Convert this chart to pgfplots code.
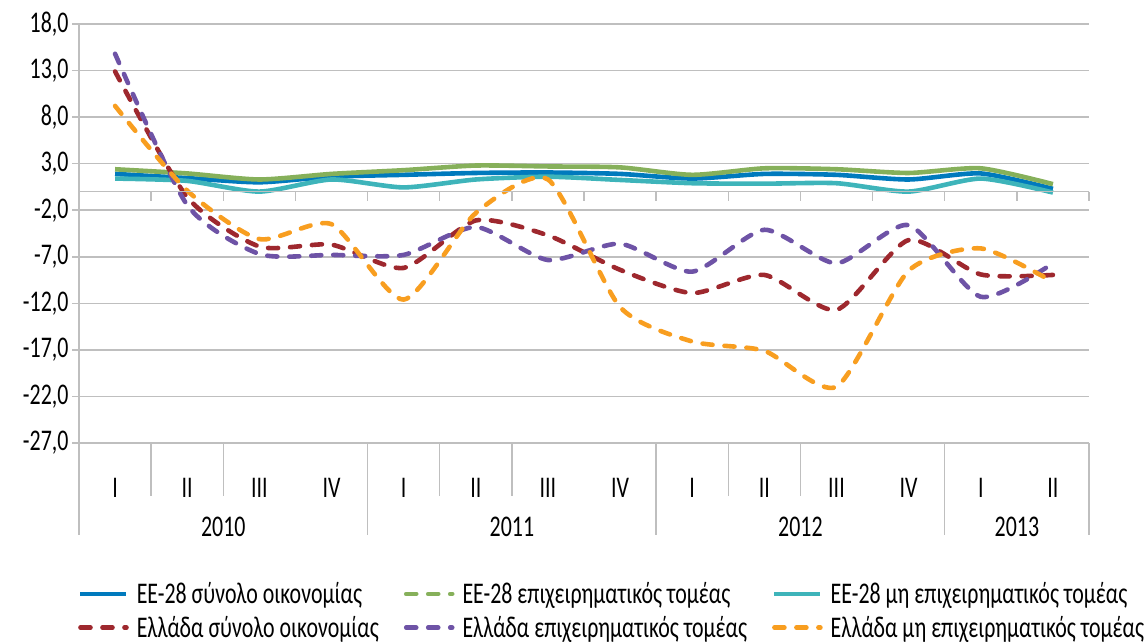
\documentclass[border=0pt]{standalone}
\usepackage{fontspec}
\setmainfont{Carlito}[FakeStretch=0.73]
\usepackage{pgfplots}
\usepackage{pgfplotstable}
\pgfplotsset{compat=1.18}

\definecolor{euTotal}{RGB}{0,122,189}
\definecolor{euBus}{RGB}{134,176,90}
\definecolor{euNon}{RGB}{62,180,186}
\definecolor{grTotal}{RGB}{158,40,46}
\definecolor{grBus}{RGB}{110,83,166}
\definecolor{grNon}{RGB}{248,158,32}
\definecolor{gridgray}{RGB}{191,191,191}

% q: quarter index, 2010Q1 = 0 ... 2013Q2 = 13
\pgfplotstableread{
q  eutot eubus eunon grtot  grbus  grnon
0  1.90  2.40  1.40  12.90  14.80   9.20
1  1.45  1.95  1.15  -0.60  -1.45   0.10
2  1.00  1.30  0.00  -5.90  -6.70  -5.10
3  1.60  1.90  1.30  -5.70  -6.80  -3.50
4  1.80  2.30  0.45  -8.20  -6.80 -11.60
5  2.00  2.80  1.30  -3.10  -3.80  -2.30
6  2.05  2.70  1.60  -4.70  -7.35   1.30
7  1.90  2.60  1.25  -8.40  -5.60 -12.40
8  1.40  1.80  0.90 -10.90  -8.60 -16.10
9  1.90  2.50  0.85  -8.95  -4.10 -17.10
10 1.80  2.40  0.90 -12.70  -7.70 -20.95
11 1.30  2.00  0.00  -5.20  -3.60  -8.50
12 1.95  2.50  1.40  -8.90 -11.30  -6.10
13 0.30  0.80 -0.10  -8.95  -7.70  -9.70
}\data

\pgfplotsset{
  solidser/.style={mark=none, smooth, tension=0.4, line width=4.6pt, line join=round},
  dashser/.style={mark=none, smooth, tension=0.4, line width=4.6pt, line cap=round,
    line join=round, dash pattern=on 10pt off 12pt},
}

\begin{document}
\begin{tikzpicture}[font=\fontsize{30}{34}\selectfont]
\useasboundingbox (0pt,0pt) rectangle (1145pt,644pt);
\begin{axis}[
  at={(79pt,201pt)}, anchor=south west,
  scale only axis, width=1010pt, height=419pt,
  xmin=-0.5, xmax=13.5, ymin=-27, ymax=18,
  axis lines*=left,
  axis line style={gridgray, line width=1.5pt},
  ytick={-27,-22,...,18},
  ymajorgrids, grid style={gridgray, line width=1.5pt},
  tick align=outside, major tick length=7pt,
  ytick style={gridgray, line width=1.5pt},
  xtick={0,...,13},
  xticklabels={I,II,III,IV,I,II,III,IV,I,II,III,IV,I,II},
  xtick style={draw=none},
  xticklabel style={anchor=center, yshift=-38pt},
  tick label style={font=\fontsize{30}{34}\selectfont},
  /pgf/number format/.cd, fixed, fixed zerofill, precision=1, use comma,
    assume math mode=true,
  /pgfplots/.cd,
  legend columns=3,
  legend cell align=left,
  legend image code/.code={\draw[#1] (0pt,0pt) -- (46pt,0pt);},
  legend style={draw=none, fill=none, at={(-0.001,-0.328)}, anchor=north west,
    inner sep=0pt, row sep=7pt, font=\fontsize{30}{34}\selectfont,
    /tikz/every odd column/.append style={column sep=6pt},
    /tikz/every even column/.append style={column sep=23pt}},
]
\addplot[solidser, euTotal] table[x=q, y=eutot] {\data};
\addlegendentry{ΕΕ-28 σύνολο οικονομίας}
\addplot[solidser, euBus, legend image post style={dash pattern=on 10pt off 12pt, line cap=round}] table[x=q, y=eubus] {\data};
\addlegendentry{ΕΕ-28 επιχειρηματικός τομέας}
\addplot[solidser, euNon] table[x=q, y=eunon] {\data};
\addlegendentry{ΕΕ-28 μη επιχειρηματικός τομέας}
\addplot[dashser, grTotal] table[x=q, y=grtot] {\data};
\addlegendentry{Ελλάδα σύνολο οικονομίας}
\addplot[dashser, grBus] table[x=q, y=grbus] {\data};
\addlegendentry{Ελλάδα επιχειρηματικός τομέας}
\addplot[dashser, grNon] table[x=q, y=grnon] {\data};
\addlegendentry{Ελλάδα μη επιχειρηματικός τομέας}
\end{axis}
% zero line with its ticks
\draw[gridgray, line width=1.5pt] (79pt,452.4pt) -- (1089pt,452.4pt);
\foreach \k in {1,...,14}
  \draw[gridgray, line width=1.5pt] ({(79+72.1429*\k)*1pt},452.4pt) -- ++(0,-9pt);
% category separators below the plot
\foreach \k in {1,2,4,5,6,8,9,10,12}
  \draw[gridgray, line width=1.5pt] ({(79+72.1429*\k)*1pt},201pt) -- ++(0,-53pt);
\foreach \k in {0,4,8,12,14}
  \draw[gridgray, line width=1.5pt] ({(79+72.1429*\k)*1pt},201pt) -- ++(0,-92pt);
\node at (223.3pt,117pt) {2010};
\node at (511.9pt,117pt) {2011};
\node at (800.4pt,117pt) {2012};
\node at (1016.9pt,117pt) {2013};
\end{tikzpicture}
\end{document}
